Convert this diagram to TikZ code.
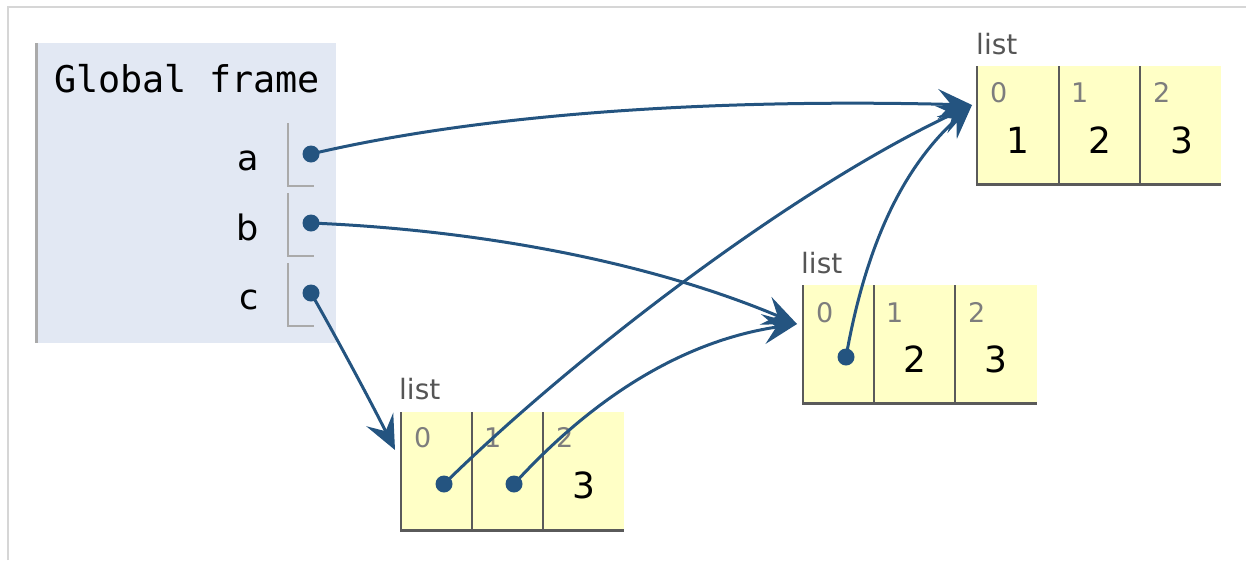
\documentclass[tikz,border=0pt]{standalone}
\usepackage{fontspec}
\setmainfont{DejaVu Sans}
\setmonofont{DejaVu Sans Mono}
\usetikzlibrary{arrows.meta}

\definecolor{framebg}{RGB}{226,232,243}
\definecolor{cellbg}{RGB}{255,255,198}
\definecolor{ptrblue}{RGB}{36,84,128}
\definecolor{edgegray}{RGB}{170,170,170}
\definecolor{pagegray}{RGB}{214,214,214}
\definecolor{linegray}{RGB}{90,90,90}
\definecolor{lblgray}{RGB}{85,85,85}
\definecolor{idxgray}{RGB}{125,125,125}

\tikzset{
  ptr/.style={draw=ptrblue, line width=3pt, -{Stealth[length=34pt,width=30pt,inset=13pt]}},
  dot/.style={circle, fill=ptrblue, inner sep=0, minimum size=17pt},
  cell/.style={fill=cellbg, inner sep=0, anchor=north west, minimum height=118pt},
  cellline/.style={draw=linegray, line width=2.5pt},
  bracket/.style={draw=edgegray, line width=2pt},
  var/.style={anchor=base east, inner sep=0, font=\fontsize{35}{40}\selectfont},
  lbl/.style={anchor=base west, inner sep=0, text=lblgray, font=\fontsize{28}{32}\selectfont},
  idx/.style={anchor=base west, inner sep=0, text=idxgray, font=\fontsize{27}{30}\selectfont},
  val/.style={inner sep=0, font=\fontsize{36}{40}\selectfont}
}

\begin{document}
\begin{tikzpicture}[x=1pt,y=-1pt]
\useasboundingbox (0,0) rectangle (1246,560);
\draw[pagegray, line width=1.5pt] (8,560) -- (8,7) -- (1246,7);

% global frame
\node[fill=framebg, inner sep=0, minimum width=301pt, minimum height=300pt, anchor=north west] (frame) at (35,43) {};
\draw[edgegray, line width=2.5pt] (36.5,43) -- (36.5,343);
\node[anchor=base west, inner sep=0, font=\ttfamily\fontsize{36.8}{40}\selectfont] (title) at (54,92) {Global frame};

\node[var] (aname) at (259,170) {a};
\node[var] (bname) at (259,240) {b};
\node[var] (cname) at (259,309) {c};
\draw[bracket] (288,123) |- (314,186);
\draw[bracket] (288,193) |- (314,256);
\draw[bracket] (288,263) |- (314,326);

% list A
\node[lbl] (Alabel) at (976,54) {list};
\node[cell, minimum width=82pt] (A0) at (977,66) {};
\node[cell, minimum width=81pt] (A1) at (1059,66) {};
\node[cell, minimum width=81pt] (A2) at (1140,66) {};
\draw[cellline] (A0.north west) -- (A0.south west) -- (A2.south east);
\draw[cellline] (A1.north west) -- (A1.south west);
\draw[cellline] (A2.north west) -- (A2.south west);
\node[idx] (A0i) at (990,102) {0};
\node[idx] (A1i) at (1071,102) {1};
\node[idx] (A2i) at (1153,102) {2};
\node[val] (A0v) at (1018,140) {1};
\node[val] (A1v) at (1100,140) {2};
\node[val] (A2v) at (1182,140) {3};

% list B
\node[lbl] (Blabel) at (801,273) {list};
\node[cell, minimum width=71pt] (B0) at (803,285) {};
\node[cell, minimum width=81pt] (B1) at (874,285) {};
\node[cell, minimum width=82pt] (B2) at (955,285) {};
\draw[cellline] (B0.north west) -- (B0.south west) -- (B2.south east);
\draw[cellline] (B1.north west) -- (B1.south west);
\draw[cellline] (B2.north west) -- (B2.south west);
\node[idx] (B0i) at (816,322) {0};
\node[idx] (B1i) at (886,322) {1};
\node[idx] (B2i) at (968,322) {2};
\node[val] (B1v) at (915,359) {2};
\node[val] (B2v) at (996,359) {3};

% list C
\node[lbl] (Clabel) at (399,399) {list};
\node[cell, minimum width=71pt] (C0) at (401,412) {};
\node[cell, minimum width=71pt] (C1) at (472,412) {};
\node[cell, minimum width=81pt] (C2) at (543,412) {};
\draw[cellline] (C0.north west) -- (C0.south west) -- (C2.south east);
\draw[cellline] (C1.north west) -- (C1.south west);
\draw[cellline] (C2.north west) -- (C2.south west);
\node[idx] (C0i) at (414,447) {0};
\node[idx] (C1i) at (484,447) {1};
\node[idx] (C2i) at (556,447) {2};
\node[val] (C2v) at (584,485) {3};

% pointers
\node[dot] (adot) at (311,154) {};
\node[dot] (bdot) at (311,223) {};
\node[dot] (cdot) at (311,293) {};
\node[dot] (B0dot) at (846,357) {};
\node[dot] (C0dot) at (444,484) {};
\node[dot] (C1dot) at (514,484) {};
\coordinate (Ain) at (972,105);
\coordinate (Bin) at (797,324);
\coordinate (Cin) at (395,450);

\draw[ptr] (adot.center) .. controls (520,105) and (780,100) .. (Ain);
\draw[ptr] (bdot.center) .. controls (480,230) and (650,262) .. (Bin);
\draw[ptr] (cdot.center) .. controls (335,335) and (370,400) .. (Cin);
\draw[ptr] (C0dot.center) .. controls (570,360) and (790,190) .. (Ain);
\draw[ptr] (C1dot.center) .. controls (600,390) and (690,340) .. (Bin);
\draw[ptr] (B0dot.center) .. controls (865,250) and (900,170) .. (Ain);
\end{tikzpicture}
\end{document}
